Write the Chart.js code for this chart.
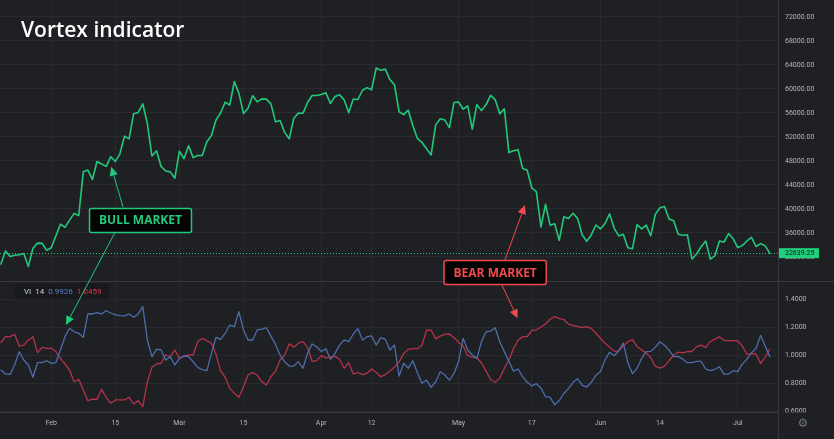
<!DOCTYPE html>
<html>
<head>
<meta charset="utf-8">
<title>Vortex indicator</title>
<script src="https://cdn.jsdelivr.net/npm/chart.js@4.4.1/dist/chart.umd.min.js"></script>
<style>
  html, body { margin: 0; padding: 0; background: #1f2023; }
  #wrap { width: 834px; height: 439px; }
</style>
</head>
<body>
<div id="wrap"><canvas id="vortex" width="834" height="439"></canvas></div>
<script>
// daily closes, day 0 = 21 Jan 2021
const priceClose = [
  30825, 33005, 32067, 32289, 32366, 32569, 30432, 33466, 34316, 34269,
  33114, 33537, 35510, 37472, 36926, 38144, 39266, 38903, 46196, 46481,
  44919, 47909, 47504, 47105, 48717, 47945, 49199, 52149, 51679, 55888,
  56099, 57539, 54207, 48824, 49705, 47093, 46339, 46188, 45137, 49631,
  48378, 50538, 48561, 48927, 48912, 51206, 52246, 54824, 56008, 57805,
  57332, 61243, 59302, 55907, 56804, 58870, 57858, 58346, 58313, 57523,
  54529, 54738, 52774, 51704, 55137, 55974, 55947, 57750, 58918, 58918,
  59095, 59384, 57604, 58758, 59057, 58192, 56049, 58323, 58245, 59794,
  60204, 59893, 63503, 63109, 63314, 61572, 60684, 56216, 55724, 56473,
  53906, 51763, 51093, 50050, 49004, 54021, 55033, 54824, 53555, 57750,
  57828, 56631, 57200, 53333, 57424, 56396, 57356, 58950, 58232, 55859,
  56704, 49400, 49716, 49880, 46760, 46456, 43537, 42909, 37002, 40782,
  37304, 37536, 34770, 38705, 38402, 39294, 38436, 35697, 34616, 35678,
  37332, 36684, 37575, 39187, 36825, 35514, 35796, 33552, 33380, 37388,
  36675, 37313, 35551, 39097, 40218, 40406, 38347, 38053, 35787, 35615,
  35698, 31676, 32505, 33723, 34662, 31637, 32186, 34650, 34494, 35911,
  35046, 33572, 33897, 34668, 35287, 33747, 34235, 33855, 32639.25
];

// VI+ (14)
const viPlus = [
  0.898, 0.870, 0.866, 0.934, 1.029, 0.969, 0.934, 0.846, 0.950, 0.950,
  0.964, 0.945, 0.950, 1.041, 1.136, 1.196, 1.171, 1.160, 1.131, 1.298,
  1.298, 1.307, 1.298, 1.321, 1.305, 1.291, 1.286, 1.284, 1.298, 1.274,
  1.298, 1.350, 1.112, 0.993, 1.046, 1.041, 0.969, 0.993, 0.934, 0.981,
  0.998, 0.993, 0.957, 0.917, 0.900, 0.893, 1.017, 1.131, 1.117, 1.160,
  1.219, 1.207, 1.314, 1.184, 1.112, 1.112, 1.184, 1.190, 1.200, 1.140,
  1.080, 1.005, 0.957, 0.926, 0.926, 0.957, 0.910, 1.017, 1.084, 1.064,
  1.029, 1.050, 0.974, 1.017, 1.076, 1.112, 1.100, 1.155, 1.193, 1.112,
  1.136, 1.141, 1.076, 1.129, 1.117, 1.041, 1.076, 0.855, 0.946, 0.910,
  0.964, 0.879, 0.803, 0.826, 0.774, 0.814, 0.886, 0.862, 0.826, 0.874,
  0.957, 1.124, 1.041, 1.005, 0.981, 1.100, 1.171, 1.176, 1.200, 1.100,
  1.029, 0.960, 0.890, 0.905, 0.850, 0.810, 0.785, 0.800, 0.770, 0.707,
  0.703, 0.650, 0.680, 0.730, 0.765, 0.810, 0.835, 0.790, 0.775, 0.810,
  0.860, 0.886, 0.970, 1.025, 1.000, 1.035, 1.090, 0.950, 0.872, 0.910,
  0.980, 1.029, 1.031, 1.060, 1.100, 1.075, 1.040, 0.993, 0.995, 0.975,
  0.950, 0.950, 0.960, 0.960, 0.905, 0.893, 0.903, 0.920, 0.869, 0.869,
  0.893, 0.886, 0.940, 0.975, 1.020, 1.053, 1.145, 1.070, 0.9926
];

// VI- (14)
const viMinus = [
  1.093, 1.136, 1.136, 1.153, 1.069, 1.076, 1.112, 1.136, 1.022, 1.060,
  1.053, 1.053, 1.030, 0.981, 0.941, 0.898, 0.814, 0.831, 0.755, 0.679,
  0.689, 0.689, 0.760, 0.703, 0.660, 0.684, 0.684, 0.684, 0.703, 0.655,
  0.679, 0.636, 0.814, 0.917, 0.941, 0.946, 1.005, 0.993, 1.041, 0.981,
  0.998, 1.005, 1.005, 1.100, 1.124, 1.107, 1.089, 1.010, 0.893, 0.846,
  0.767, 0.731, 0.703, 0.779, 0.862, 0.879, 0.862, 0.815, 0.791, 0.850,
  0.890, 0.970, 1.005, 1.085, 1.060, 1.090, 1.100, 1.060, 0.960, 0.965,
  1.000, 0.985, 0.990, 0.995, 0.975, 0.910, 0.950, 0.870, 0.880, 0.865,
  0.875, 0.905, 0.880, 0.850, 0.865, 0.890, 0.920, 0.955, 1.015, 1.045,
  1.050, 1.050, 1.075, 1.180, 1.184, 1.120, 1.140, 1.152, 1.155, 1.130,
  1.095, 1.070, 1.000, 0.990, 0.985, 0.950, 0.890, 0.830, 0.810, 0.840,
  0.910, 0.969, 1.050, 1.110, 1.136, 1.136, 1.180, 1.185, 1.205, 1.226,
  1.260, 1.280, 1.265, 1.258, 1.226, 1.215, 1.210, 1.200, 1.207, 1.195,
  1.160, 1.125, 1.090, 1.060, 1.033, 1.035, 1.070, 1.100, 1.115, 1.065,
  1.040, 1.020, 0.985, 0.925, 0.912, 0.925, 0.965, 1.005, 1.025, 1.020,
  1.030, 1.030, 1.065, 1.075, 1.060, 1.100, 1.118, 1.135, 1.110, 1.107,
  1.107, 1.105, 1.070, 1.010, 1.017, 1.012, 0.945, 0.990, 1.0459
];

// time axis: day index of each label
const tickDays = [11, 25, 39, 53, 70, 81, 100, 116, 131, 144, 161];
const tickLabels = ['Feb', '15', 'Mar', '15', 'Apr', '12', 'May', '17', 'Jun', '14', 'Jul'];
const priceTicks = [32000, 36000, 40000, 44000, 48000, 52000, 56000, 60000, 64000, 68000, 72000];
const viTicks = [0.6, 0.8, 1.0, 1.2, 1.4];

// annotations in data space: [day, axis, value]
const bullNote = { text: 'BULL MARKET', at: [30.5, 'y', 38100],
  arrows: [[[26.7, 'y', 40300], [24.1, 'y', 47050]], [[24.9, 'y', 36050], [14.2, 'y2', 1.219]]] };
const bearNote = { text: 'BEAR MARKET', at: [108.0, 'y', 29400],
  arrows: [[[109.8, 'y', 30800], [114.5, 'y', 40650]], [[109.4, 'y2', 1.51], [112.9, 'y2', 1.267]]] };

const BG = '#1f2023';
const GRID = '#292a2e';
const EDGE = '#36373c';
const GREEN = '#22c97b';
const BLUE = '#4d6dab';
const RED = '#b5324a';
const TICK_FONT = { family: 'Roboto', size: 7 };

function drawArrow(ctx, p, q, color) {
  const ang = Math.atan2(q.y - p.y, q.x - p.x);
  const len = 9, half = 4.2;
  const bx = q.x - Math.cos(ang) * len, by = q.y - Math.sin(ang) * len;
  ctx.strokeStyle = color; ctx.fillStyle = color; ctx.lineWidth = 1;
  ctx.beginPath(); ctx.moveTo(p.x, p.y); ctx.lineTo(bx, by); ctx.stroke();
  ctx.beginPath();
  ctx.moveTo(q.x, q.y);
  ctx.lineTo(bx + Math.sin(ang) * half, by - Math.cos(ang) * half);
  ctx.lineTo(bx - Math.sin(ang) * half, by + Math.cos(ang) * half);
  ctx.closePath(); ctx.fill();
}

function drawNote(chart, note, color) {
  const ctx = chart.ctx;
  const pt = (d) => ({ x: chart.scales.x.getPixelForValue(d[0]), y: chart.scales[d[1]].getPixelForValue(d[2]) });
  note.arrows.forEach(a => drawArrow(ctx, pt(a[0]), pt(a[1]), color));
  const c = pt(note.at);
  ctx.font = '700 12px "Open Sans"';
  const w = ctx.measureText(note.text).width + 19, h = 24;
  ctx.beginPath();
  ctx.roundRect(c.x - w / 2, c.y - h / 2, w, h, 2);
  ctx.fillStyle = '#050505'; ctx.fill();
  ctx.lineWidth = 1.5; ctx.strokeStyle = color; ctx.stroke();
  ctx.fillStyle = color; ctx.textAlign = 'center'; ctx.textBaseline = 'middle';
  ctx.fillText(note.text, c.x, c.y + 0.5);
}

// the axes must not push the plot area away from the edges
function noPad(s) {
  s.paddingTop = 0; s.paddingBottom = 0; s.paddingLeft = 0; s.paddingRight = 0;
}

const overlay = {
  id: 'overlay',
  beforeDatasetsDraw(chart) {
    const { ctx, chartArea: a, scales } = chart;
    const yl = Math.round(scales.y.getPixelForValue(priceClose[priceClose.length - 1])) + 0.5;
    ctx.save();
    ctx.strokeStyle = GREEN; ctx.lineWidth = 1; ctx.setLineDash([1, 2]);
    ctx.beginPath(); ctx.moveTo(a.left, yl); ctx.lineTo(a.right, yl); ctx.stroke();
    ctx.restore();
  },
  afterDraw(chart) {
    const { ctx, chartArea: a, scales } = chart;
    ctx.save();
    // pane separator
    const ys = Math.round(scales.y2.top) + 0.5;
    ctx.strokeStyle = '#3a3b41'; ctx.lineWidth = 1;
    ctx.beginPath(); ctx.moveTo(0, ys); ctx.lineTo(chart.width, ys); ctx.stroke();

    // bottom right corner of the time axis
    ctx.fillStyle = BG;
    ctx.fillRect(a.right + 1, a.bottom + 0.5, chart.width - a.right, chart.height - a.bottom);
    ctx.strokeStyle = EDGE;
    ctx.beginPath(); ctx.moveTo(a.right + 0.5, a.bottom); ctx.lineTo(a.right + 0.5, chart.height); ctx.stroke();
    ctx.fillStyle = '#6f727c'; ctx.font = '12px "DejaVu Sans"';
    ctx.textAlign = 'center'; ctx.textBaseline = 'middle';
    ctx.fillText('\u2699', a.right + 25, a.bottom + 12);

    // last price tag
    const last = priceClose[priceClose.length - 1];
    const yl = scales.y.getPixelForValue(last);
    ctx.fillStyle = '#1fcf7c';
    ctx.fillRect(a.right + 1, yl - 5, 40, 10);
    ctx.fillStyle = '#101114'; ctx.font = '7px Roboto';
    ctx.textAlign = 'left';
    ctx.fillText(last.toFixed(2), a.right + 7, yl + 0.5);

    // title
    ctx.fillStyle = '#ffffff'; ctx.font = '600 21px "Open Sans"';
    ctx.textBaseline = 'alphabetic';
    ctx.fillText('Vortex indicator', 21, 37);

    // indicator legend
    ctx.fillStyle = '#18191c';
    ctx.fillRect(15, ys + 2, 94, 16);
    ctx.font = '8px Roboto'; ctx.textBaseline = 'middle';
    let x = 24;
    [['VI', '#c9ccd3'], ['14', '#c9ccd3'], [viPlus[viPlus.length - 1].toFixed(4), '#5b80c8'],
     [viMinus[viMinus.length - 1].toFixed(4), '#e2354f']].forEach(([t, c]) => {
      ctx.fillStyle = c; ctx.fillText(t, x, ys + 10);
      x += ctx.measureText(t).width + 4;
    });

    drawNote(chart, bullNote, GREEN);
    drawNote(chart, bearNote, '#f04a4f');
    ctx.restore();
  }
};

const dayIndex = priceClose.map((_, i) => i);

new Chart(document.getElementById('vortex'), {
  type: 'line',
  data: {
    labels: dayIndex,
    datasets: [
      { label: 'Price', data: priceClose, yAxisID: 'y', borderColor: GREEN, borderWidth: 1.6 },
      { label: 'VI+', data: viPlus, yAxisID: 'y2', borderColor: BLUE, borderWidth: 1.3 },
      { label: 'VI-', data: viMinus, yAxisID: 'y2', borderColor: RED, borderWidth: 1.3 }
    ]
  },
  options: {
    responsive: false,
    animation: false,
    layout: { padding: 0 },
    elements: {
      point: { radius: 0 },
      line: { tension: 0, borderJoinStyle: 'round', borderCapStyle: 'round' }
    },
    plugins: { legend: { display: false }, tooltip: { enabled: false } },
    scales: {
      x: {
        type: 'linear', min: -0.2, max: 169.8,
        afterBuildTicks: s => { s.ticks = tickDays.map(v => ({ value: v })); },
        afterFit: s => { s.height = 27; noPad(s); },
        ticks: {
          callback: v => tickLabels[tickDays.indexOf(v)],
          color: '#b2b5be', font: TICK_FONT, padding: 7, maxRotation: 0, autoSkip: false
        },
        grid: { color: GRID, drawTicks: false },
        border: { color: EDGE }
      },
      y: {
        position: 'right', stack: 'panes', stackWeight: 281,
        min: 28000, max: 74833,
        afterBuildTicks: s => { s.ticks = priceTicks.map(v => ({ value: v })); },
        afterFit: s => { s.width = 56; noPad(s); },
        ticks: { callback: v => v.toFixed(2), color: '#b2b5be', font: TICK_FONT, padding: 7 },
        grid: { color: GRID, drawTicks: false },
        border: { color: EDGE }
      },
      y2: {
        position: 'right', stack: 'panes', stackWeight: 131,
        min: 0.5979, max: 1.5336,
        afterBuildTicks: s => { s.ticks = viTicks.map(v => ({ value: v })); },
        afterFit: s => { s.width = 56; noPad(s); },
        ticks: { callback: v => v.toFixed(4), color: '#b2b5be', font: TICK_FONT, padding: 7 },
        grid: { color: GRID, drawTicks: false },
        border: { color: EDGE }
      }
    }
  },
  plugins: [overlay]
});
</script>
</body>
</html>
